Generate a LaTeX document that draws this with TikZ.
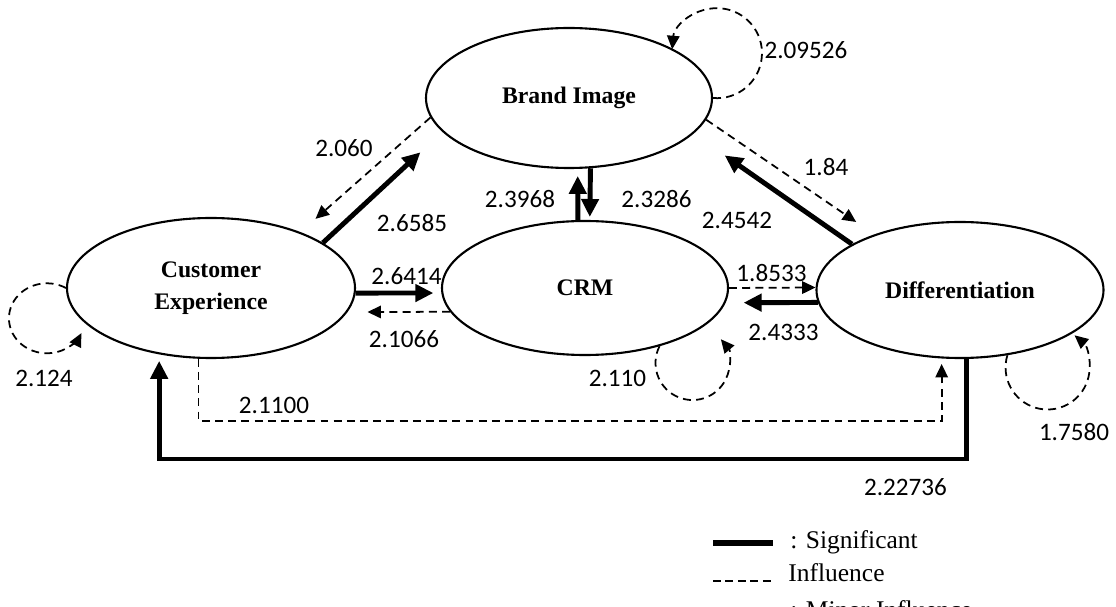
\documentclass[tikz,border=0pt]{standalone}
\usepackage{fontspec}
\setmainfont{Liberation Serif}
\newfontfamily\numfont{Carlito}
\usetikzlibrary{shapes.geometric,arrows.meta}

\tikzset{
	bubble/.style={ellipse, draw, line width=1.2pt, inner sep=0pt, align=center,
		font=\fontsize{13.5}{18}\selectfont\bfseries},
	major/.style={line width=2.8pt, -{Triangle[length=0.36cm,width=0.34cm]}},
	minor/.style={line width=1pt, dash pattern=on 4.5pt off 3pt,
		-{Triangle[length=0.27cm,width=0.25cm]}},
	num/.style={inner sep=0pt, font=\numfont\fontsize{14.3}{16}\selectfont},
	legend/.style={inner sep=0pt, anchor=base west, font=\fontsize{14.5}{17}\selectfont},
}

\begin{document}
\begin{tikzpicture}
	\useasboundingbox (0,0) rectangle (22.32,12.12);
	\clip (0,0) rectangle (22.32,12.12);

	% constructs
	\node[bubble, minimum width=5.72cm, minimum height=2.8cm] (bi) at (11.38,10.16) {Brand Image};
	\node[bubble, minimum width=5.72cm, minimum height=2.68cm] (crm) at (11.70,6.36) {CRM};
	\node[bubble, minimum width=5.76cm, minimum height=2.8cm] (ce) at (4.22,6.36) {Customer\\Experience};
	\node[bubble, minimum width=5.74cm, minimum height=2.72cm] (dif) at (19.20,6.32) {Differentiation};

	% paths between constructs
	\draw[major, shorten >=0.6cm] (ce.22) -- (bi.195);
	\draw[minor, shorten >=0.4cm] (bi.188) -- (ce.32);
	\draw[major, shorten >=0.14cm] (crm.96) -- (bi.277);
	\draw[major, shorten >=0.06cm] (bi.287) -- (crm.86);
	\draw[major, shorten >=0.76cm] (dif.157) -- (bi.344);
	\draw[minor, shorten >=0.44cm] (bi.351) -- (dif.147);
	\draw[major, shorten >=0.16cm] (ce.-2) -- (crm.182);
	\draw[minor, shorten >=0.4cm] (crm.190) -- (ce.350);
	\draw[minor] (crm.0) -- (dif.179);
	\draw[major, shorten >=0.36cm] (dif.185) -- (crm.-6);
	\draw[minor, shorten >=0.11cm] (ce.260) -- ++(0,-1.25) -| (dif.255);
	\draw[major, shorten >=0.13cm] (dif.275) -- ++(0,-2.0) -| (ce.232);

	% self loops
	\draw[minor] (ce.west) arc[start angle=60, end angle=335, x radius=0.76cm, y radius=0.7cm];
	\draw[minor] (bi.east) arc[start angle=-95, end angle=175, radius=0.9cm];
	\draw[minor] (crm.-38) arc[start angle=153, end angle=400, radius=0.74cm];
	\draw[minor] (dif.-54) arc[start angle=163, end angle=410, radius=0.84cm];

	% coefficients
	\node[num] (v1) at (8.24,7.66) {2.6585};
	\node[num] (v2) at (6.88,9.16) {2.060};
	\node[num] (v3) at (10.40,8.14) {2.3968};
	\node[num] (v4) at (13.13,8.14) {2.3286};
	\node[num] (v5) at (14.74,7.72) {2.4542};
	\node[num] (v6) at (16.52,8.78) {1.84};
	\node[num] (v7) at (8.13,6.60) {2.6414};
	\node[num] (v8) at (8.08,5.34) {2.1066};
	\node[num] (v9) at (15.43,6.66) {1.8533};
	\node[num] (v10) at (15.67,5.48) {2.4333};
	\node[num] (v11) at (5.48,4.02) {2.1100};
	\node[num] (v12) at (18.11,2.38) {2.22736};
	\node[num] (v13) at (0.88,4.56) {2.124};
	\node[num] (v14) at (16.12,11.12) {2.09526};
	\node[num] (v15) at (12.35,4.56) {2.110};
	\node[num] (v16) at (21.48,3.48) {1.7580};

	% legend
	\node[legend] (sig) at (15.80,1.16) {: Significant};
	\node[legend] (inf) at (15.76,0.50) {Influence};
	\node[legend] (mnr) at (15.80,-0.24) {: Minor Influence};
	\draw[line width=3pt] (14.26,1.26) -- (15.46,1.26);
	\draw[line width=1pt, dash pattern=on 4.5pt off 2.6pt] (14.26,0.50) -- (15.50,0.50);
\end{tikzpicture}
\end{document}
